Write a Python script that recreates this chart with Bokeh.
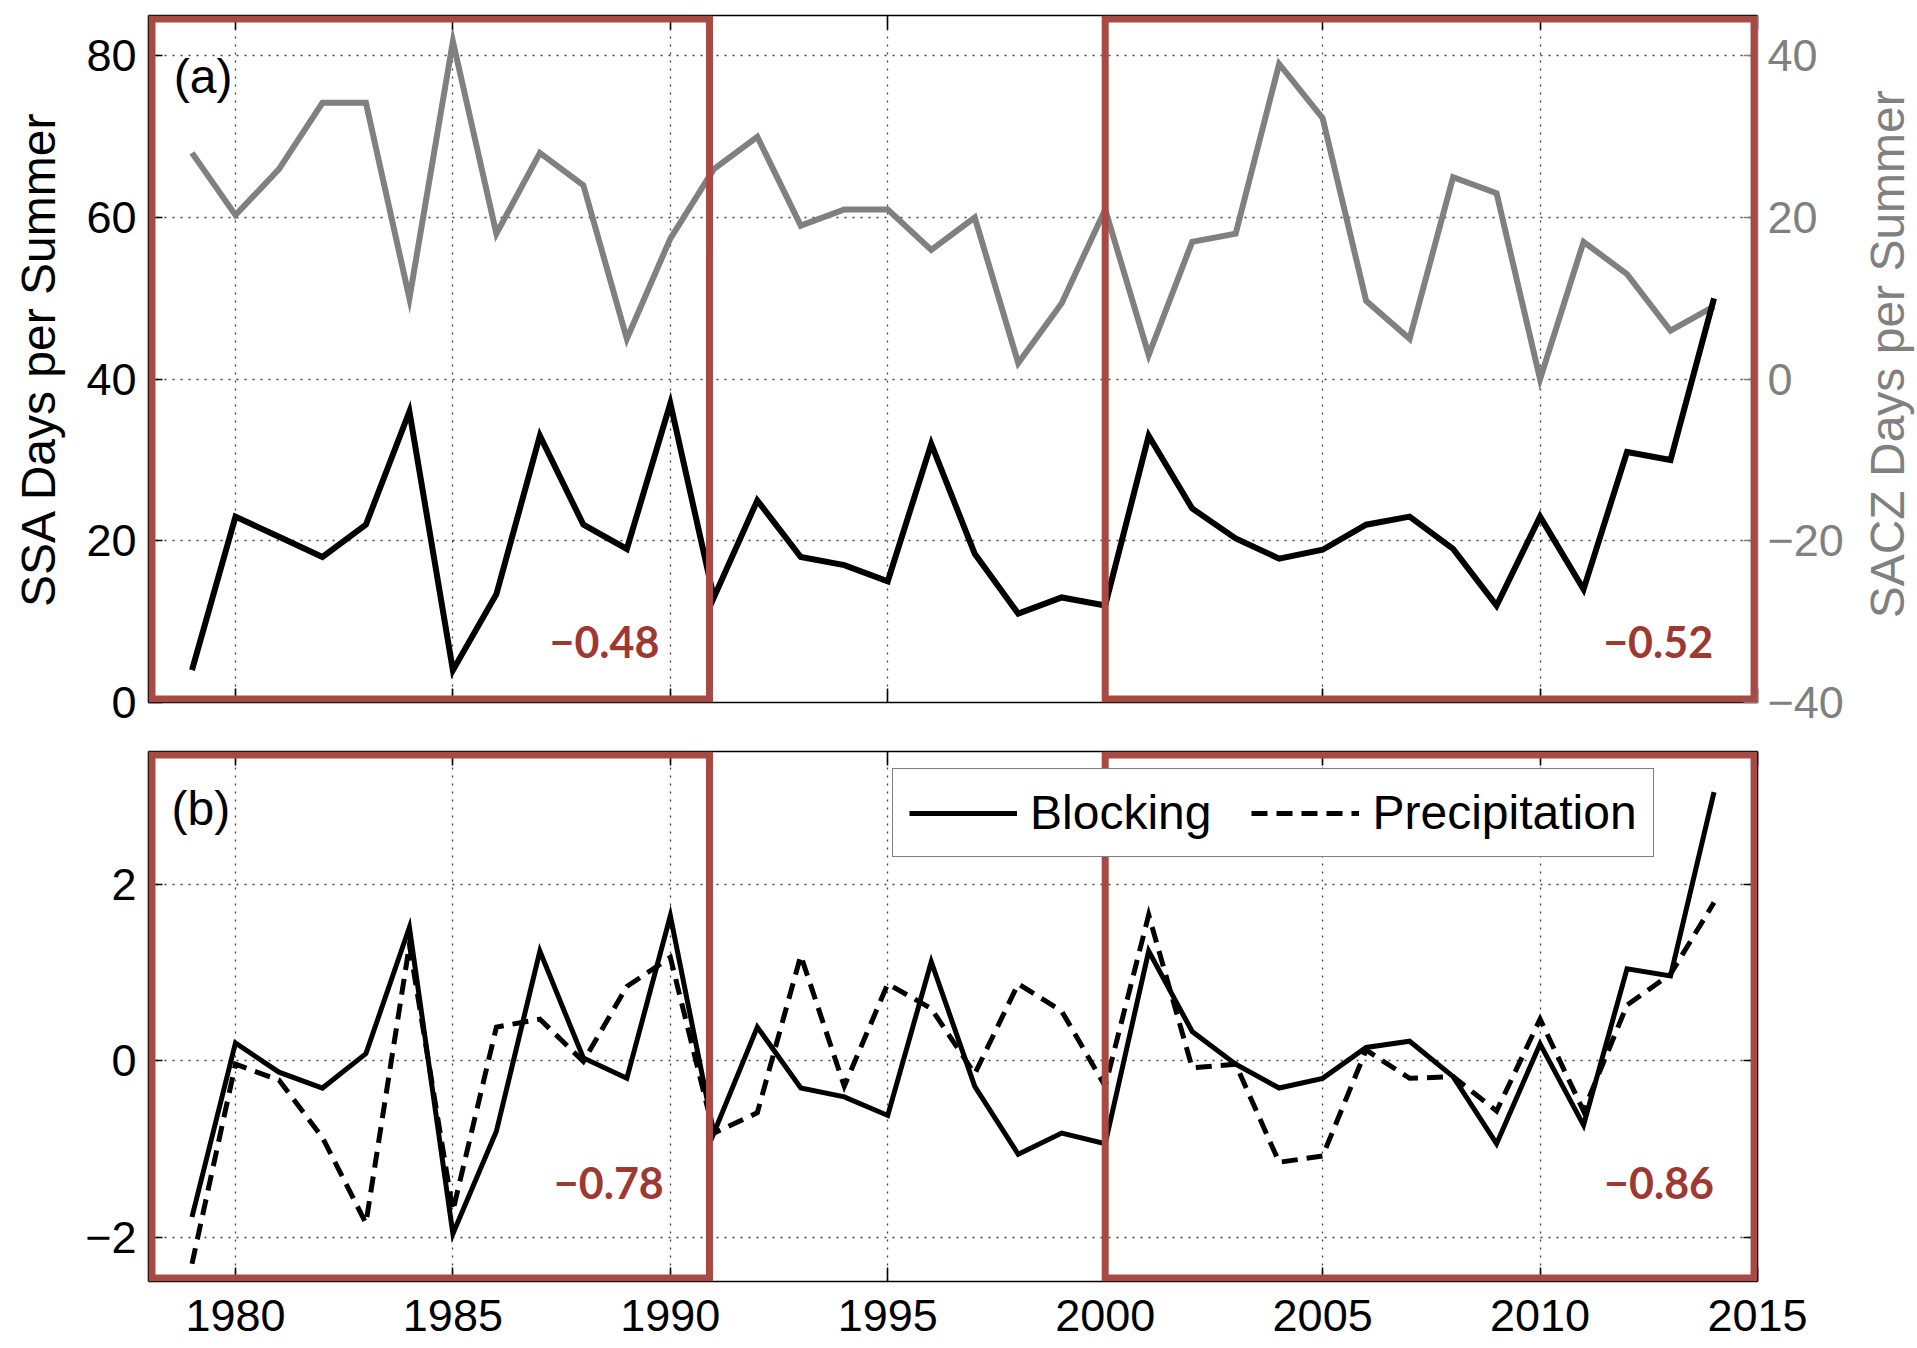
import math
from bokeh.plotting import figure
from bokeh.layouts import column, row
from bokeh.models import (Range1d, LinearAxis, FixedTicker, Legend, LegendItem,
                          BoxAnnotation, Label, Grid)
from bokeh.core.properties import value
from bokeh.embed import file_html
from bokeh.resources import INLINE

# ---------------- data ----------------
years = list(range(1979, 2015))
ssa_days = [4, 23, 20.5, 18, 22, 36, 4, 13.4, 33, 22, 19, 37,
            13, 25, 18, 17, 15, 32, 18.4, 11, 13, 12,
            33, 24, 20.3, 17.8, 18.9, 22, 23, 19, 12, 23, 14, 31, 30, 50]
sacz_days = [28, 20.3, 26, 34.2, 34.2, 10, 41.8, 18, 28, 24, 5, 17.4,
             26, 30, 19, 21, 21, 16, 20, 2, 9.4, 21,
             3, 17, 18, 39, 32.3, 9.7, 5, 25, 23, 0, 17, 13, 6, 9]
blocking = [-1.77, 0.2, -0.13, -0.31, 0.08, 1.51, -1.96, -0.8, 1.24, 0.03, -0.2, 1.64,
            -0.82, 0.38, -0.31, -0.41, -0.62, 1.12, -0.29, -1.06, -0.82, -0.94,
            1.24, 0.33, -0.04, -0.31, -0.2, 0.15, 0.22, -0.18, -0.94, 0.19, -0.73, 1.04, 0.96, 3.04]
precipitation = [-2.3, -0.04, -0.22, -0.87, -1.84, 1.31, -1.7, 0.38, 0.47, -0.01, 0.84, 1.17,
                 -0.82, -0.59, 1.19, -0.29, 0.87, 0.59, -0.15, 0.87, 0.56, -0.29,
                 1.65, -0.08, -0.04, -1.15, -1.08, 0.12, -0.2, -0.18, -0.57, 0.47, -0.57, 0.63, 0.98, 1.79]

x_ticks = [1980, 1985, 1990, 1995, 2000, 2005, 2010, 2015]
ssa_ticks = [0, 20, 40, 60, 80]
sacz_ticks = [-40, -20, 0, 20, 40]
index_ticks = [-2, 0, 2]

# correlation windows (years) and their correlation coefficients
periods = [(1978.08, 1990.9), (2000.0, 2014.92)]
corr_a = ["\u22120.48", "\u22120.52"]
corr_b = ["\u22120.78", "\u22120.86"]

# ---------------- styles ----------------
FONT = "Liberation Sans"
RED = "#A84A44"
RED_TXT = "#9E3832"
GRAY = "#808080"
TICK_FS = "45px"
LABEL_FS = "48px"


def make_axis(ticks, show_labels, color="black", **kw):
    ax = LinearAxis(ticker=FixedTicker(ticks=ticks, minor_ticks=[]), **kw)
    ax.axis_line_color = color
    ax.axis_line_width = 1.6
    ax.major_tick_line_color = color
    ax.major_tick_line_width = 1.6
    ax.major_tick_in = 14
    ax.major_tick_out = 0
    ax.minor_tick_in = 0
    ax.minor_tick_out = 0
    ax.major_label_text_font = FONT
    ax.major_label_text_color = color
    ax.axis_label_text_font = FONT
    ax.axis_label_text_font_style = "normal"
    ax.axis_label_text_font_size = LABEL_FS
    ax.axis_label_text_color = color
    if show_labels:
        ax.major_label_text_font_size = TICK_FS
    else:
        ax.major_label_overrides = {t: "" for t in ticks}
        ax.major_label_text_font_size = "1px"
        ax.major_label_standoff = 0
    return ax


def add_grid(p, xt, yt):
    for dim, t in ((0, xt), (1, yt)):
        g = Grid(dimension=dim, ticker=FixedTicker(ticks=t, minor_ticks=[]))
        g.grid_line_color = "black"
        g.grid_line_alpha = 0.75
        g.grid_line_width = 1.3
        g.grid_line_dash = "2 6"
        p.add_layout(g)


def red_box(p, l, r, b, t):
    p.add_layout(BoxAnnotation(left=l, right=r, bottom=b, top=t, fill_alpha=0,
                               line_color=RED, line_alpha=1, line_width=7, line_join="miter"))


# ---------------- panel (a) ----------------
p1 = figure(width=1857, height=732, x_range=Range1d(1978, 2015), y_range=Range1d(0, 85),
            output_backend="svg", toolbar_location=None, x_axis_type=None, y_axis_type=None,
            min_border_left=148, min_border_right=100, min_border_top=15, min_border_bottom=30)
p1.extra_y_ranges = {"sacz": Range1d(-40, 45)}
p1.outline_line_color = None

ax = make_axis(ssa_ticks, True, axis_label="SSA Days per Summer")
ax.major_label_standoff = 12
ax.axis_label_standoff = 18
p1.add_layout(ax, "left")
ax = make_axis(sacz_ticks, True, color=GRAY, y_range_name="sacz")
ax.major_label_standoff = 10
p1.add_layout(ax, "right")
p1.add_layout(make_axis(x_ticks, False), "below")
p1.add_layout(make_axis(x_ticks, False), "above")
add_grid(p1, x_ticks, ssa_ticks)

p1.line(years, sacz_days, y_range_name="sacz", line_color=GRAY, line_width=6, line_join="miter")
p1.line(years, ssa_days, line_color="black", line_width=6, line_join="miter")

p1.add_layout(Label(x=1978.58, y=77.5, text="(a)", text_font=FONT, text_font_size=LABEL_FS,
                    text_color="black", text_baseline="alphabetic", text_align="left"))
corr_x = [1989.75, 2013.98]
for (l, r), t, cx in zip(periods, corr_a, corr_x):
    red_box(p1, l, r, 0.43, 84.57)
    p1.add_layout(Label(x=cx, y=7.5, text=t, text_font="Lato", text_font_style="bold",
                        text_font_size="43px", text_color=RED_TXT, text_align="right",
                        text_baseline="alphabetic"))

# right-hand axis title (reads bottom-to-top, like the left one) in a narrow strip
pr = figure(width=60, height=732, x_range=Range1d(0, 1), y_range=Range1d(0, 732),
            output_backend="svg", toolbar_location=None, x_axis_type=None, y_axis_type=None,
            min_border=0, min_border_left=0, min_border_right=0, min_border_top=0,
            min_border_bottom=0)
pr.outline_line_color = None
pr.text(x=[0.5], y=[371], text=["SACZ Days per Summer"], angle=math.pi / 2,
        text_font=value(FONT), text_font_size=LABEL_FS, text_color=GRAY,
        text_align="center", text_baseline="middle")

# ---------------- panel (b) ----------------
p2 = figure(width=1917, height=616, x_range=Range1d(1978, 2015), y_range=Range1d(-2.5, 3.5),
            output_backend="svg", toolbar_location=None, x_axis_type=None, y_axis_type=None,
            min_border_left=148, min_border_right=160, min_border_top=19, min_border_bottom=67)
p2.outline_line_color = None

ax = make_axis(index_ticks, True)
ax.major_label_standoff = 12
p2.add_layout(ax, "left")
p2.add_layout(make_axis(index_ticks, False), "right")
ax = make_axis(x_ticks, True)
ax.major_label_standoff = 18
p2.add_layout(ax, "below")
p2.add_layout(make_axis(x_ticks, False), "above")
add_grid(p2, x_ticks, index_ticks)

r_blk = p2.line(years, blocking, line_color="black", line_width=5, line_join="miter")
r_pre = p2.line(years, precipitation, line_color="black", line_width=5, line_dash="16 9",
                line_join="miter")

p2.add_layout(Label(x=1978.53, y=2.86, text="(b)", text_font=FONT, text_font_size=LABEL_FS,
                    text_color="black", text_baseline="alphabetic", text_align="left"))
corr_x = [1989.85, 2014.0]
for (l, r), t, cx in zip(periods, corr_b, corr_x):
    red_box(p2, l, r, -2.46, 3.46)
    p2.add_layout(Label(x=cx, y=-1.39, text=t, text_font="Lato", text_font_style="bold",
                        text_font_size="43px", text_color=RED_TXT, text_align="right",
                        text_baseline="alphabetic"))

legend = Legend(items=[LegendItem(label="Blocking", renderers=[r_blk]),
                       LegendItem(label="Precipitation", renderers=[r_pre])],
                orientation="horizontal", location=(744, 424))
legend.label_text_font = FONT
legend.label_text_font_size = LABEL_FS
legend.label_text_color = "black"
legend.glyph_width = 108
legend.glyph_height = 30
legend.label_standoff = 13
legend.spacing = 40
legend.padding = 16
legend.margin = 0
legend.border_line_color = "black"
legend.border_line_width = 1.5
legend.background_fill_alpha = 1
p2.add_layout(legend, "center")

layout = column(row(p1, pr, spacing=0), p2, spacing=0)
open("out.html", "w").write(file_html(layout, INLINE))
